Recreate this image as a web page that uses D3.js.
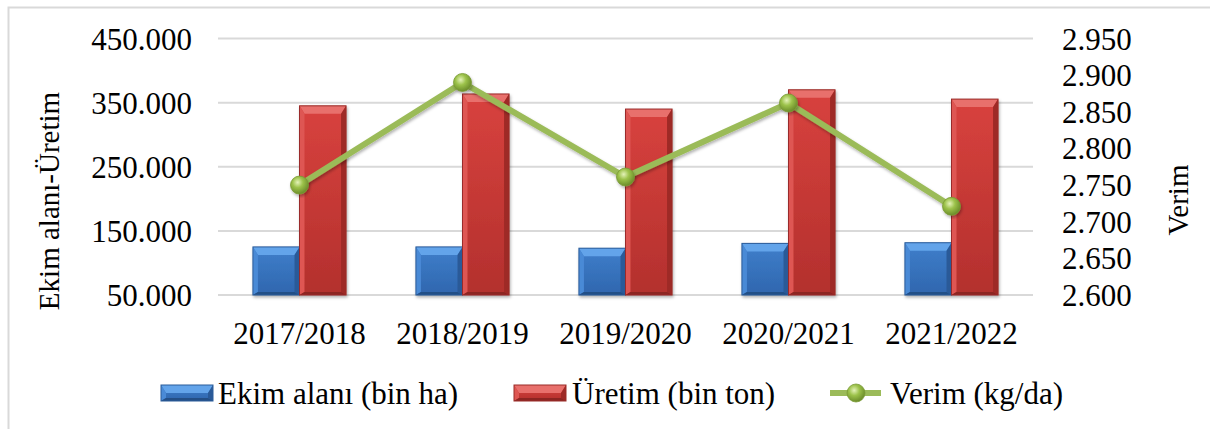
<!DOCTYPE html>
<html>
<head>
<meta charset="utf-8">
<script src="https://cdn.jsdelivr.net/npm/d3@7"></script>
<style>
  body { margin: 0; background: #fff; }
  svg { display: block; }
  text { font-family: "Liberation Serif", "Times New Roman", serif; fill: #000; }
</style>
</head>
<body>
<svg id="chart" width="1210" height="429"></svg>
<script>
// data
const categories = ['2017/2018', '2018/2019', '2019/2020', '2020/2021', '2021/2022'];
const ekimAlani = [125000, 125000, 123000, 130500, 131500];   // bin ha
const uretim = [345000, 363500, 340000, 370000, 355500];      // bin ton
const verim = [2750, 2890, 2761, 2862, 2721];                 // kg/da
const leftTicks = [50000, 150000, 250000, 350000, 450000];
const rightTicks = [2600, 2650, 2700, 2750, 2800, 2850, 2900, 2950];
const seriesNames = ['Ekim alanı (bin ha)', 'Üretim (bin ton)', 'Verim (kg/da)'];

const svg = d3.select('#chart').attr('font-family', '"Liberation Serif", serif');
const plotL = 218, plotR = 1033, plotT = 38.5, plotB = 295;
const fs = 31;
const serif = '"Liberation Serif", "Times New Roman", serif';

const trLocale = d3.formatLocale({ decimal: ',', thousands: '.', grouping: [3], currency: ['', ''] });
const fmt = trLocale.format(',d');

const x = d3.scaleBand().domain(categories).range([plotL, plotR]).padding(0);
const xSub = d3.scaleBand().domain(['ekim', 'uretim']).range([0, x.bandwidth()]).paddingInner(0).paddingOuter(0.75);
const yLeft = d3.scaleLinear().domain([50000, 450000]).range([plotB, plotT]);
const yRight = d3.scaleLinear().domain([2600, 2950]).range([plotB, plotT]);

// gradients
const defs = svg.append('defs');
function vgrad(id, c1, c2) {
  const g = defs.append('linearGradient').attr('id', id).attr('x1', 0).attr('y1', 0).attr('x2', 0).attr('y2', 1);
  g.append('stop').attr('offset', '0%').attr('stop-color', c1);
  g.append('stop').attr('offset', '100%').attr('stop-color', c2);
}
vgrad('gBlue', '#3F7FCB', '#2F66AE');
vgrad('gRed', '#D8423E', '#B3302D');
const rg = defs.append('radialGradient').attr('id', 'gBall').attr('cx', '40%').attr('cy', '35%').attr('r', '65%');
rg.append('stop').attr('offset', '0%').attr('stop-color', '#E4F2B8');
rg.append('stop').attr('offset', '45%').attr('stop-color', '#9CC24A');
rg.append('stop').attr('offset', '100%').attr('stop-color', '#6B8C2A');
const sh = defs.append('filter').attr('id', 'shadow').attr('x', '-20%').attr('y', '-20%').attr('width', '140%').attr('height', '140%');
sh.append('feDropShadow').attr('dx', 1).attr('dy', 2).attr('stdDeviation', 1.5).attr('flood-color', '#000').attr('flood-opacity', 0.3);

// outer frame
svg.append('rect')
  .attr('x', 8.5).attr('y', 7.5).attr('width', 1230).attr('height', 440)
  .attr('fill', 'none').attr('stroke', '#D9D9D9').attr('stroke-width', 2);

// gridlines
svg.append('g').selectAll('line')
  .data(leftTicks)
  .enter()
  .append('line')
  .attr('x1', plotL).attr('x2', plotR)
  .attr('y1', d => yLeft(d)).attr('y2', d => yLeft(d))
  .attr('stroke', '#D9D9D9').attr('stroke-width', 2);

// axes
const axL = svg.append('g').attr('transform', `translate(${plotL},0)`)
  .call(d3.axisLeft(yLeft).tickValues(leftTicks).tickFormat(fmt).tickSize(0).tickPadding(26));
const axR = svg.append('g').attr('transform', `translate(${plotR},0)`)
  .call(d3.axisRight(yRight).tickValues(rightTicks).tickFormat(fmt).tickSize(0).tickPadding(29));
const axB = svg.append('g').attr('transform', `translate(0,${plotB})`)
  .call(d3.axisBottom(x).tickSize(0).tickPadding(27));
[axL, axR, axB].forEach(a => {
  a.attr('font-family', serif);
  a.select('.domain').remove();
  a.selectAll('text').style('font-family', serif).style('font-size', fs + 'px').attr('fill', '#000');
});
axL.selectAll('text').attr('dy', '0.34em');
axR.selectAll('text').attr('dy', '0.34em');

// bevelled bar
function bevelBar(g, x0, y0, w, h, fill, light, lighter, dark, darker, stroke) {
  const b = Math.min(8, h / 2);
  const s = 5;
  g.append('rect').attr('x', x0).attr('y', y0).attr('width', w).attr('height', h).attr('fill', fill);
  g.append('polygon').attr('points', [[x0, y0], [x0 + w, y0], [x0 + w - s, y0 + b], [x0 + s, y0 + b]].join(' ')).attr('fill', lighter);
  g.append('polygon').attr('points', [[x0, y0], [x0 + s, y0 + b], [x0 + s, y0 + h - 3], [x0, y0 + h]].join(' ')).attr('fill', light);
  g.append('polygon').attr('points', [[x0 + w, y0], [x0 + w, y0 + h], [x0 + w - s, y0 + h - 3], [x0 + w - s, y0 + b]].join(' ')).attr('fill', dark);
  g.append('polygon').attr('points', [[x0, y0 + h], [x0 + s, y0 + h - 3], [x0 + w - s, y0 + h - 3], [x0 + w, y0 + h]].join(' ')).attr('fill', darker);
  g.append('rect').attr('x', x0).attr('y', y0).attr('width', w).attr('height', h)
    .attr('fill', 'none').attr('stroke', stroke).attr('stroke-width', 1);
}
const blueStyle = ['url(#gBlue)', '#4A8AD6', '#63A4EA', '#2A5A98', '#244F86', '#2B5C9A'];
const redStyle = ['url(#gRed)', '#DE5652', '#E8706C', '#9E2A27', '#8C2522', '#9A2C29'];

const barsG = svg.append('g').attr('filter', 'url(#shadow)');
categories.forEach((c, i) => {
  const gE = barsG.append('g');
  bevelBar(gE, x(c) + xSub('ekim'), yLeft(ekimAlani[i]), xSub.bandwidth(), yLeft(50000) - yLeft(ekimAlani[i]), ...blueStyle);
  const gU = barsG.append('g');
  bevelBar(gU, x(c) + xSub('uretim'), yLeft(uretim[i]), xSub.bandwidth(), yLeft(50000) - yLeft(uretim[i]), ...redStyle);
});

// verim line
const cx = d => x(d) + x.bandwidth() / 2;
const line = d3.line().x((d, i) => cx(categories[i])).y(d => yRight(d));
svg.append('path')
  .datum(verim)
  .attr('d', line)
  .attr('fill', 'none')
  .attr('stroke', '#9BBB59')
  .attr('stroke-width', 6)
  .attr('stroke-linejoin', 'round')
  .attr('filter', 'url(#shadow)');
svg.append('g').selectAll('circle')
  .data(verim)
  .enter()
  .append('circle')
  .attr('cx', (d, i) => cx(categories[i]))
  .attr('cy', d => yRight(d))
  .attr('r', 9)
  .attr('fill', 'url(#gBall)')
  .attr('stroke', '#7A9A35')
  .attr('stroke-width', 0.8)
  .attr('filter', 'url(#shadow)');

// axis titles
svg.append('text')
  .attr('transform', 'translate(59,201) rotate(-90)')
  .attr('text-anchor', 'middle')
  .style('font-family', serif)
  .style('font-size', '29px')
  .text('Ekim alanı-Üretim');
svg.append('text')
  .attr('transform', 'translate(1188,200) rotate(-90)')
  .attr('text-anchor', 'middle')
  .style('font-family', serif)
  .style('font-size', '29px')
  .text('Verim');

// legend
const legY = 393;
const lg = svg.append('g');
const l1 = lg.append('g');
bevelBar(l1, 161, legY - 8, 52, 16, ...blueStyle);
lg.append('text').attr('x', 218).attr('y', legY).attr('dy', '0.34em').style('font-family', serif).style('font-size', fs + 'px').text(seriesNames[0]);
const l2 = lg.append('g');
bevelBar(l2, 514, legY - 8, 52, 16, ...redStyle);
lg.append('text').attr('x', 572).attr('y', legY).attr('dy', '0.34em').style('font-family', serif).style('font-size', fs + 'px').text(seriesNames[1]);
lg.append('line').attr('x1', 830).attr('x2', 881).attr('y1', legY).attr('y2', legY)
  .attr('stroke', '#9BBB59').attr('stroke-width', 6);
lg.append('circle').attr('cx', 856).attr('cy', legY).attr('r', 9)
  .attr('fill', 'url(#gBall)').attr('stroke', '#7A9A35').attr('stroke-width', 0.8);
lg.append('text').attr('x', 890).attr('y', legY).attr('dy', '0.34em').style('font-family', serif).style('font-size', fs + 'px').text(seriesNames[2]);
</script>
</body>
</html>
